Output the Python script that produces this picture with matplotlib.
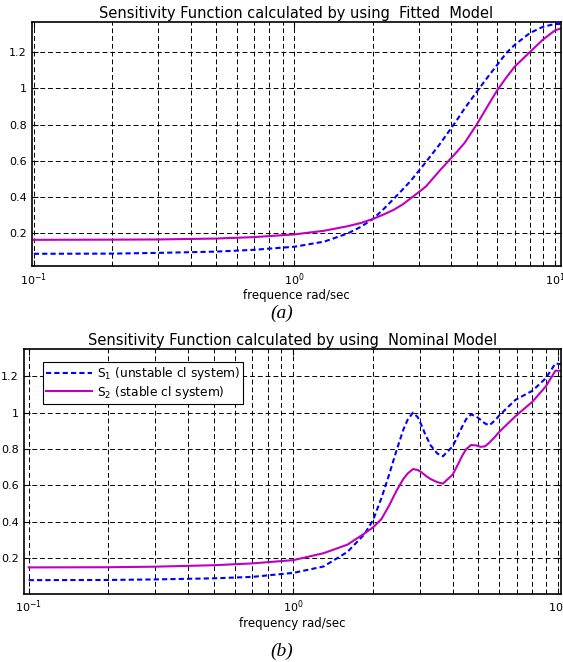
import matplotlib
matplotlib.use('Agg')
import matplotlib.pyplot as plt
from matplotlib.ticker import FormatStrFormatter, MultipleLocator

# (a) fitted model
freq_a = [0.1, 0.2, 0.3, 0.5, 0.7, 1.0, 1.3, 1.6, 1.8, 2.0, 2.2, 2.4, 2.6, 2.8, 3.0,
          3.2, 3.6, 3.9, 4.2, 4.5, 5.0, 5.5, 6.0, 6.5, 7.0, 8.0, 9.0, 10.0, 10.5]
s1_a = [0.088, 0.089, 0.093, 0.100, 0.110, 0.127, 0.155, 0.200, 0.237, 0.280, 0.335,
        0.390, 0.442, 0.492, 0.545, 0.595, 0.690, 0.760, 0.825, 0.890, 0.980, 1.060,
        1.130, 1.195, 1.240, 1.305, 1.340, 1.355, 1.355]
s2_a = [0.165, 0.166, 0.167, 0.172, 0.180, 0.195, 0.215, 0.240, 0.258, 0.280, 0.305,
        0.330, 0.360, 0.395, 0.428, 0.460, 0.545, 0.600, 0.650, 0.700, 0.800, 0.900,
        0.990, 1.060, 1.120, 1.200, 1.270, 1.320, 1.330]

# (b) nominal model
freq_b = [0.1, 0.2, 0.3, 0.5, 0.7, 1.0, 1.3, 1.6, 1.85, 2.0, 2.15, 2.3, 2.45, 2.6,
          2.7, 2.83, 2.95, 3.05, 3.15, 3.3, 3.5, 3.67, 4.0, 4.2, 4.35, 4.5, 4.69, 4.9,
          5.1, 5.3, 5.5, 5.8, 6.0, 6.9, 8.0, 9.0, 9.77, 10.3]
s1_b = [0.080, 0.081, 0.084, 0.090, 0.098, 0.120, 0.155, 0.235, 0.330, 0.410, 0.530,
        0.660, 0.790, 0.905, 0.960, 1.000, 0.975, 0.930, 0.880, 0.820, 0.775, 0.760,
        0.815, 0.880, 0.925, 0.965, 0.990, 0.980, 0.960, 0.940, 0.930, 0.960, 0.985,
        1.070, 1.120, 1.190, 1.270, 1.265]
s2_b = [0.150, 0.151, 0.154, 0.162, 0.172, 0.190, 0.228, 0.275, 0.335, 0.370, 0.415,
        0.490, 0.570, 0.635, 0.665, 0.690, 0.685, 0.672, 0.655, 0.635, 0.618, 0.610,
        0.660, 0.720, 0.765, 0.800, 0.822, 0.820, 0.812, 0.815, 0.835, 0.870, 0.895,
        0.980, 1.060, 1.145, 1.230, 1.230]

titles = ['Sensitivity Function calculated by using  Fitted  Model',
          'Sensitivity Function calculated by using  Nominal Model']
xlabels = ['frequence rad/sec', 'frequency rad/sec']
legend_labels = [r'S$_1$ (unstable cl system)', r'S$_2$ (stable cl system)']

BLUE = '#0000ff'
MAGENTA = '#bf00bf'


def style_axes(ax, xlim, ylim, title, xlabel):
    ax.set_xscale('log')
    ax.set_xlim(*xlim)
    ax.set_ylim(*ylim)
    ax.yaxis.set_major_locator(MultipleLocator(0.2))
    ax.yaxis.set_major_formatter(FormatStrFormatter('%g'))
    ax.tick_params(which='both', direction='in', top=True, right=True, labelsize=8)
    ax.tick_params(which='major', length=4)
    ax.tick_params(which='minor', length=2)
    ax.grid(True, which='both', axis='x', color='black', linestyle=(0, (5, 3)), linewidth=0.7)
    ax.grid(True, which='major', axis='y', color='black', linestyle=(0, (5, 3)), linewidth=0.7)
    for sp in ax.spines.values():
        sp.set_linewidth(1.2)
    ax.set_title(title, fontsize=10.5, pad=3)
    ax.set_xlabel(xlabel, fontsize=8.5, labelpad=1)


def main():
    plt.rcParams['font.family'] = ['DejaVu Sans']
    plt.rcParams['mathtext.fontset'] = 'dejavusans'

    fig = plt.figure(figsize=(5.63, 6.62), dpi=100)
    ax1 = fig.add_axes([0.056, 0.598, 0.9405, 0.3685])
    ax2 = fig.add_axes([0.042, 0.103, 0.9545, 0.370])

    ax1.plot(freq_a, s1_a, color=BLUE, linewidth=1.5, dashes=(2.5, 1.5))
    ax1.plot(freq_a, s2_a, color=MAGENTA, linewidth=1.5)
    style_axes(ax1, (0.098, 10.54), (0.02, 1.365), titles[0], xlabels[0])

    ax2.plot(freq_b, s1_b, color=BLUE, linewidth=1.5, dashes=(2.5, 1.5), label=legend_labels[0])
    ax2.plot(freq_b, s2_b, color=MAGENTA, linewidth=1.5, label=legend_labels[1])
    style_axes(ax2, (0.0957, 10.26), (0.005, 1.35), titles[1], xlabels[1])

    leg = ax2.legend(loc='upper left', bbox_to_anchor=(0.036, 0.947), borderaxespad=0,
                     fontsize=8.8, handlelength=3.8, handletextpad=0.35, labelspacing=0.15,
                     borderpad=0.25, fancybox=False, framealpha=1)
    leg.get_frame().set_edgecolor('black')
    leg.get_frame().set_linewidth(0.8)

    fig.text(0.50, 1 - 313 / 662, '(a)', ha='center', va='center', fontsize=14,
             family='Liberation Serif', style='italic')
    fig.text(0.50, 1 - 651 / 662, '(b)', ha='center', va='center', fontsize=14,
             family='Liberation Serif', style='italic')

    fig.savefig('out.png', dpi=100)


if __name__ == "__main__":
    main()
